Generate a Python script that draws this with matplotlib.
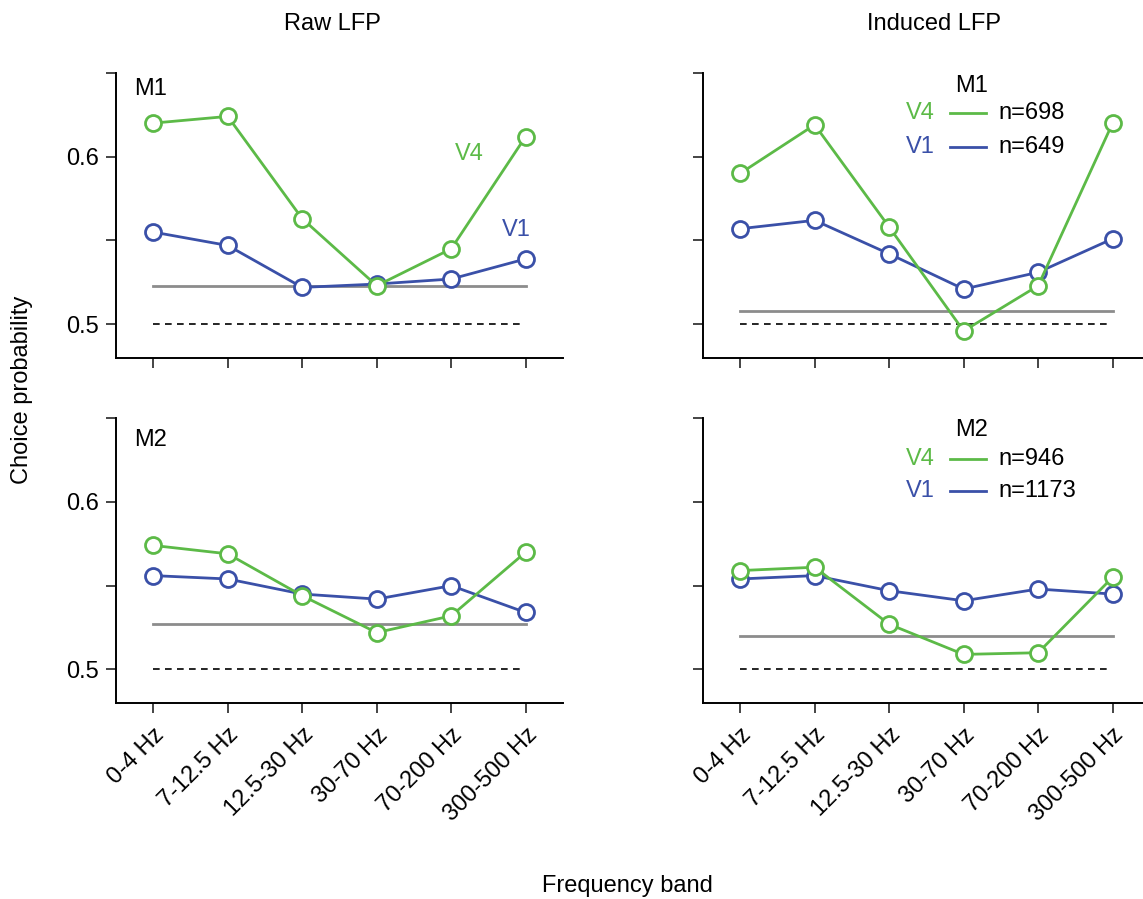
import numpy as np
import matplotlib
matplotlib.use("Agg")
import matplotlib.pyplot as plt

plt.rcParams['font.family'] = ['Liberation Sans', 'DejaVu Sans']

# Données
bands = ["0-4 Hz", "7-12.5 Hz", "12.5-30 Hz", "30-70 Hz", "70-200 Hz", "300-500 Hz"]

raw_m1_v4 = [0.620, 0.624, 0.563, 0.523, 0.545, 0.612]
raw_m1_v1 = [0.555, 0.547, 0.522, 0.524, 0.527, 0.539]
raw_m1_shuffle = [0.523, 0.523, 0.523, 0.523, 0.523, 0.523]

ind_m1_v4 = [0.590, 0.619, 0.558, 0.496, 0.523, 0.620]
ind_m1_v1 = [0.557, 0.562, 0.542, 0.521, 0.531, 0.551]
ind_m1_shuffle = [0.508, 0.508, 0.508, 0.508, 0.508, 0.508]

raw_m2_v4 = [0.574, 0.569, 0.544, 0.522, 0.532, 0.570]
raw_m2_v1 = [0.556, 0.554, 0.545, 0.542, 0.550, 0.534]
raw_m2_shuffle = [0.527, 0.527, 0.527, 0.527, 0.527, 0.527]

ind_m2_v4 = [0.559, 0.561, 0.527, 0.509, 0.510, 0.555]
ind_m2_v1 = [0.554, 0.556, 0.547, 0.541, 0.548, 0.545]
ind_m2_shuffle = [0.520, 0.520, 0.520, 0.520, 0.520, 0.520]

n_m1 = {"V4": 698, "V1": 649}
n_m2 = {"V4": 946, "V1": 1173}

green = "#5cba47"
blue = "#3a50a8"
fs = 17

fig = plt.figure(figsize=(11.43, 8.99), dpi=100)
w, h = 0.391, 0.317
ax_tl = fig.add_axes([0.1015, 0.602, w, h])
ax_tr = fig.add_axes([0.615, 0.602, w, h])
ax_bl = fig.add_axes([0.1015, 0.218, w, h])
ax_br = fig.add_axes([0.615, 0.218, w, h])

x = np.arange(len(bands))


def panel(ax, v4, v1, shuffle, show_ylabels, show_xlabels):
    ax.plot(x, shuffle, color="#8c8c8c", lw=2, zorder=1)
    ax.plot([x[0], x[-1] - 0.06], [0.5, 0.5], color="black", lw=1.2,
            linestyle=(0, (4, 3.2)), zorder=1)
    ax.plot(x, v1, color=blue, lw=2, marker="o", ms=11.5, mew=2,
            mfc="white", mec=blue, zorder=3)
    ax.plot(x, v4, color=green, lw=2, marker="o", ms=11.5, mew=2,
            mfc="white", mec=green, zorder=4)
    ax.set_xlim(-0.5, 5.5)
    ax.set_ylim(0.48, 0.65)
    ax.set_yticks([0.5, 0.55, 0.6, 0.65])
    if show_ylabels:
        ax.set_yticklabels(["0.5", "", "0.6", ""])
    else:
        ax.set_yticklabels([])
    ax.set_xticks(x)
    if show_xlabels:
        ax.set_xticklabels(bands, rotation=45, ha="right", rotation_mode="anchor")
    else:
        ax.set_xticklabels([])
    ax.spines["top"].set_visible(False)
    ax.spines["right"].set_visible(False)
    for s in ["left", "bottom"]:
        ax.spines[s].set_linewidth(1.4)
    ax.tick_params(direction="out", length=7, width=1.4, color="#444444",
                   labelsize=fs, pad=5)
    ax.tick_params(axis="x", pad=8)


panel(ax_tl, raw_m1_v4, raw_m1_v1, raw_m1_shuffle, True, False)
panel(ax_tr, ind_m1_v4, ind_m1_v1, ind_m1_shuffle, False, False)
panel(ax_bl, raw_m2_v4, raw_m2_v1, raw_m2_shuffle, True, True)
panel(ax_br, ind_m2_v4, ind_m2_v1, ind_m2_shuffle, False, True)

# Étiquettes des panneaux de gauche
ax_tl.text(0.041, 0.944, "M1", transform=ax_tl.transAxes, fontsize=fs,
           ha="left", va="center")
ax_bl.text(0.041, 0.923, "M2", transform=ax_bl.transAxes, fontsize=fs,
           ha="left", va="center")
ax_tl.text(0.790, 0.716, "V4", transform=ax_tl.transAxes, fontsize=fs,
           color=green, ha="center", va="center")
ax_tl.text(0.895, 0.449, "V1", transform=ax_tl.transAxes, fontsize=fs,
           color=blue, ha="center", va="center")


# Légendes des panneaux de droite
def legend(ax, title, ns, y_title, y_v4, y_v1):
    ax.text(0.600, y_title, title, transform=ax.transAxes, fontsize=fs,
            ha="center", va="center")
    for name, yy, col in [("V4", y_v4, green), ("V1", y_v1, blue)]:
        ax.text(0.518, yy, name, transform=ax.transAxes, fontsize=fs,
                color=col, ha="right", va="center")
        ax.plot([0.553, 0.633], [yy, yy], transform=ax.transAxes,
                color=col, lw=2, clip_on=False)
        ax.text(0.662, yy, "n=%d" % ns[name], transform=ax.transAxes,
                fontsize=fs, ha="left", va="center")


legend(ax_tr, "M1", n_m1, 0.954, 0.858, 0.739)
legend(ax_br, "M2", n_m2, 0.958, 0.857, 0.745)

fig.text(0.291, 0.973, "Raw LFP", fontsize=fs, ha="center", va="center")
fig.text(0.817, 0.973, "Induced LFP", fontsize=fs, ha="center", va="center")
fig.text(0.019, 0.566, "Choice probability", fontsize=fs, rotation=90,
         ha="center", va="center")
fig.text(0.549, 0.0145, "Frequency band", fontsize=fs, ha="center", va="center")

fig.savefig("out.png", dpi=100)
